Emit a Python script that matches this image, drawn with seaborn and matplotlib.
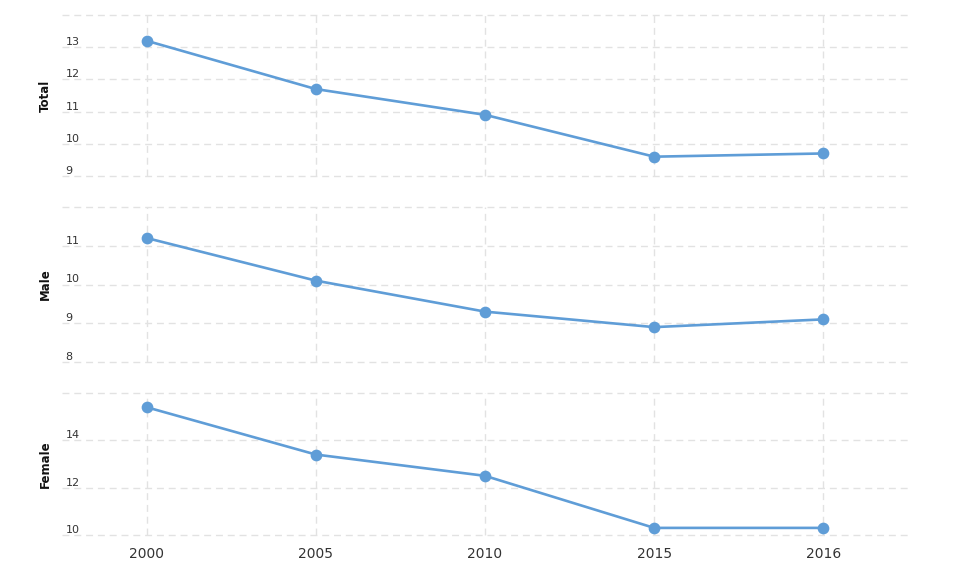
import matplotlib
matplotlib.use("Agg")
import matplotlib.pyplot as plt
import seaborn as sns
import pandas as pd

years = ["2000", "2005", "2010", "2015", "2016"]
total = [13.2, 11.7, 10.9, 9.6, 9.7]
male = [11.2, 10.1, 9.3, 8.9, 9.1]
female = [15.4, 13.4, 12.5, 10.3, 10.3]

panels = [
    ("Total", total, [9, 10, 11, 12, 13, 14], [9, 10, 11, 12, 13]),
    ("Male", male, [8, 9, 10, 11, 12], [8, 9, 10, 11]),
    ("Female", female, [10, 12, 14, 16], [10, 12, 14]),
]

sns.set_theme(style="white")
plt.rcParams['font.family'] = ['DejaVu Sans']

W, H = 966, 579
fig = plt.figure(figsize=(W / 100, H / 100), dpi=100)
# pixel extents (top, bottom) of each panel
extents = [(15, 176), (207, 362), (393, 535)]
left_px, right_px = 62, 908

line_color = "#5f9dd7"
grid_color = "#e2e2e2"

for i, ((name, vals, ticks, labels), (top, bot)) in enumerate(zip(panels, extents)):
    ax = fig.add_axes([left_px / W, 1 - bot / H, (right_px - left_px) / W, (bot - top) / H])
    df = pd.DataFrame({"year": years, "value": vals})
    sns.pointplot(data=df, x="year", y="value", ax=ax, color=line_color,
                  errorbar=None, markers="o", linestyles="-",
                  markersize=7, linewidth=1.9)
    ax.set_xlim(-0.5, len(years) - 0.5)
    ax.set_ylim(ticks[0], ticks[-1])
    ax.set_yticks(ticks)
    ax.set_yticklabels([])
    for t in labels:
        ax.text(0.004, t, str(t), transform=ax.get_yaxis_transform(),
                ha="left", va="bottom", fontsize=8, color="#333333")
    ax.grid(True, axis="both", color=grid_color, linestyle=(0, (5, 3.5)), linewidth=1.0)
    for gl in ax.get_ygridlines() + ax.get_xgridlines():
        gl.set_clip_on(False)
    ax.set_axisbelow(True)
    for s in ax.spines.values():
        s.set_visible(False)
    ax.tick_params(axis="both", length=0)
    ax.set_xlabel("")
    ax.set_ylabel(name, fontsize=8.5, fontweight="bold", color="#111111")
    ax.yaxis.set_label_coords(-0.012, 0.5)
    if i < 2:
        ax.set_xticklabels([])
    else:
        ax.tick_params(axis="x", pad=9, labelsize=10, labelcolor="#333333")

fig.savefig("out.png", dpi=100)
